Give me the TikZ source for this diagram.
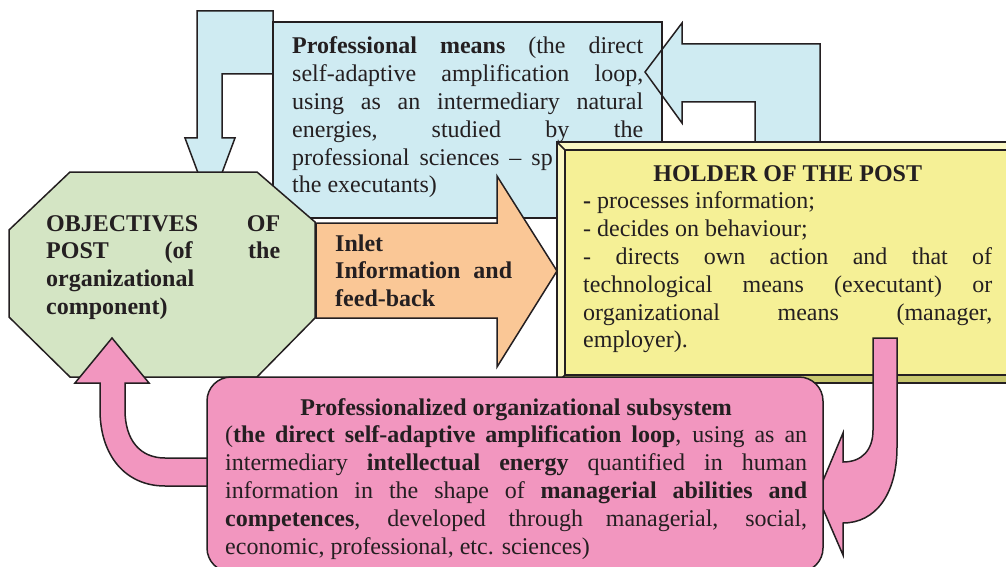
\documentclass[tikz,border=0pt]{standalone}
\usepackage{fontspec}
\setmainfont{Liberation Serif}
\setlength{\parindent}{0pt}
\tolerance=10000\relax
\hbadness=10000\relax
\definecolor{sqsqsq}{rgb}{0.14,0.12,0.13}
\definecolor{cfebf2}{rgb}{0.81,0.92,0.95}
\definecolor{d3e5c5}{rgb}{0.83,0.90,0.77}
\definecolor{fac896}{rgb}{0.98,0.78,0.59}
\definecolor{f5f096}{rgb}{0.96,0.94,0.59}
\definecolor{faf8c4}{rgb}{0.98,0.97,0.77}
\definecolor{c8c66e}{rgb}{0.78,0.78,0.43}
\definecolor{f296c0}{rgb}{0.95,0.59,0.75}

\begin{document}
\begin{tikzpicture}[x=1pt, y=-1pt,
    edge/.style={line width=1.5pt, color=sqsqsq, line join=miter},
    txt/.style={inner sep=0pt, anchor=base west, align=justify, text=sqsqsq,
        font=\fontsize{24}{27.8}\selectfont}]
    \useasboundingbox (0,0) rectangle (1006,567);
    \clip(0,0) rectangle (1006,567);
    \fill[color=cfebf2] (273,22) rectangle (662,218);
    \fill[color=cfebf2] (273,11) -- (197,11) -- (197,138) -- (185,138) -- (210,205) -- (235,138) -- (222,138) -- (222,74) -- (273,74) -- cycle;
    \fill[color=cfebf2] (820,150) -- (820,44) -- (682,44) -- (682,23) -- (645,72) -- (682,123) -- (682,102) -- (755,102) -- (755,150) -- cycle;
    \draw [edge] (273,22) rectangle (662,218);
    \draw [edge] (273,11) -- (197,11) -- (197,138) -- (185,138) -- (210,205) -- (235,138) -- (222,138) -- (222,74) -- (273,74) -- cycle;
    \draw [edge] (820,150) -- (820,44) -- (682,44) -- (682,23) -- (645,72) -- (682,123) -- (682,102) -- (755,102) -- (755,150);
    \node[txt, text width=351pt] (means) at (292,54) {\textbf{Professional means} (the direct\linebreak
        self-adaptive amplification loop,\linebreak
        using as an intermediary natural\linebreak
        energies, studied by the\linebreak
        professional\hskip10pt sciences\hskip10pt--\hskip10pt sp\newline
        the executants)};
    \draw [edge, fill=fac896] (316,223) -- (497,223) -- (497,176) -- (557,271) -- (497,367) -- (497,318) -- (316,318) -- cycle;
    \node[txt, text width=177pt] (inlet) at (335,251) {\textbf{Inlet\newline
        Information and\linebreak
        feed-back}};
    \draw [edge, fill=d3e5c5] (70,172) -- (257,172) -- (315,222) -- (315,318) -- (257,377) -- (70,377) -- (9,317) -- (9,230) -- cycle;
    \node[txt, text width=234pt] (objectives) at (46,231) {\textbf{OBJECTIVES OF\linebreak
        POST (of the\linebreak
        organizational\newline
        component)}};
    \fill[color=faf8c4] (557,142) rectangle (1020,383);
    \fill[color=c8c66e] (557,383) -- (565,375) -- (1020,375) -- (1020,383) -- cycle;
    \fill[color=f5f096] (565,150) rectangle (1020,375);
    \draw [edge] (557,142) rectangle (1020,383);
    \draw [edge] (565,150) rectangle (1020,375);
    \draw [edge] (557,142) -- (565,150);
    \draw [edge] (557,383) -- (565,375);
    \node[txt, text width=409pt] (holder) at (583,181) {\makebox[\linewidth]{\textbf{HOLDER OF THE POST}}\newline
        \textbf{-} processes information;\newline
        - decides on behaviour;\newline
        - directs own action and that of\linebreak
        technological means (executant) or\linebreak
        organizational means (manager,\linebreak
        employer).};
    \draw [edge, fill=f296c0] (112,338) -- (149,383) -- (125,383) -- (125,410) .. controls (125,440) and (140,458) .. (165,458) -- (215,458) -- (215,486) -- (165,486) .. controls (125,486) and (100,455) .. (100,410) -- (100,383) -- (75,383) -- cycle;
    \draw [edge, fill=f296c0] (873,338) -- (897,338) -- (897,447) .. controls (897,495) and (875,523) .. (843,523) -- (843,555) -- (817,495) -- (843,433) -- (843,462) .. controls (862,462) and (873,450) .. (873,430) -- cycle;
    \draw [edge, fill=f296c0, rounded corners=24pt] (207,377) rectangle (823,572);
    \node[txt, text width=582pt] (subsystem) at (225,415) {\makebox[\linewidth]{\textbf{Professionalized organizational subsystem}}\newline
        (\textbf{the direct self-adaptive amplification loop}, using as an\linebreak
        intermediary \textbf{intellectual energy} quantified in human\linebreak
        information in the shape of \textbf{managerial abilities and\linebreak
        competences}, developed through managerial, social,\linebreak
        economic, professional, etc. sciences)};
\end{tikzpicture}
\end{document}
